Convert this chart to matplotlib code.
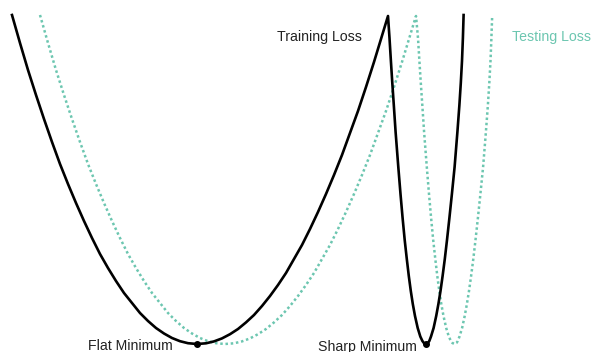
import matplotlib.pyplot as plt

# ---- data (x = parameter, y = loss) ----
train_x = [12, 20, 28, 36, 44, 52, 60, 68, 76, 84, 92, 100, 108, 116, 124, 132,
           140, 148, 156, 164, 172, 180, 188, 197,
           206, 214, 222, 230, 238, 246, 254, 262, 270, 278, 286, 294, 302, 310,
           318, 326, 334, 342, 350, 358, 366, 374, 381, 388,
           389.5, 390.9, 392.3, 393.8, 395.6, 398.3, 400.5, 402.6, 404.7, 406.8,
           408.8, 410.8, 412.8, 415, 417.7, 420.3, 422.4, 423.9, 426,
           427.9, 429.3, 431, 433.6, 436.2, 438.4, 440.5, 442.6, 444.8, 447,
           449.4, 451.9, 454.6, 457.4, 459.4, 460.8, 462, 462.9, 463.6]
train_y = [337, 309, 282, 257, 233, 210, 188, 168, 149, 131, 114, 98, 84, 71, 59, 49,
           39, 31, 24, 18.5, 14, 10.8, 8.8, 8,
           8.7, 10.6, 13.6, 17.8, 23, 29.6, 37, 46, 56, 67, 79, 93, 107, 123,
           140, 158, 177, 197, 219, 241, 265, 290, 313, 336,
           314, 291, 269, 247, 220, 185, 158, 134, 112, 93,
           76, 61, 48, 36, 24, 15.5, 11, 9, 8,
           9, 11, 15.5, 24, 36, 48, 61, 76, 93, 112,
           134, 158, 185, 220, 247, 269, 291, 314, 337]

test_x = [40, 48, 56, 64, 72, 80, 88, 96, 104, 112, 120, 128, 136, 144, 152, 160,
          168, 176, 184, 192, 200, 208, 216, 225,
          234, 242, 250, 258, 266, 274, 282, 290, 298, 306, 314, 322, 330, 338,
          346, 354, 362, 370, 378, 386, 394, 402, 409, 416,
          418, 419.4, 420.8, 422.3, 424.1, 426.8, 429, 431.1, 433.2, 435.3,
          437.3, 439.3, 441.3, 443.5, 446.2, 448.8, 450.9, 452.4, 454.5,
          456.4, 457.8, 459.5, 462.1, 464.7, 466.9, 469, 471.1, 473.3, 475.5,
          477.9, 480.4, 483.1, 485.9, 487.9, 489.3, 490.5, 491.4, 492.1]
test_y = [337, 309, 282, 257, 233, 210, 188, 168, 149, 131, 114, 98, 84, 71, 59, 49,
          39, 31, 24, 18.5, 14, 10.8, 8.8, 8,
          8.7, 10.6, 13.6, 17.8, 23, 29.6, 37, 46, 56, 67, 79, 93, 107, 123,
          140, 158, 177, 197, 219, 241, 265, 290, 313, 336,
          314, 291, 269, 247, 220, 185, 158, 134, 112, 93,
          76, 61, 48, 36, 24, 15.5, 11, 9, 8,
          9, 11, 15.5, 24, 36, 48, 61, 76, 93, 112,
          134, 158, 185, 220, 247, 269, 291, 314, 334]

minima_x = [197, 426]
minima_y = [8, 8]
minima_labels = ["Flat Minimum", "Sharp Minimum"]

TEAL = "#6cc6b0"
FONT = "Liberation Sans"

fig = plt.figure(figsize=(5.93, 3.52), dpi=100)
ax = fig.add_axes([0, 0, 1, 1])
ax.set_xlim(0, 593)
ax.set_ylim(0, 352)
ax.axis("off")

ax.plot(test_x, test_y, color=TEAL, lw=1.8, linestyle=(0, (1, 1.1)),
        dash_capstyle="butt", zorder=2)
ax.plot(train_x, train_y, color="black", lw=1.9, solid_joinstyle="round", zorder=3)
ax.scatter(minima_x, minima_y, s=16, color="black", zorder=4)

# labels
ax.text(362, 315, "Training Loss", ha="right", va="center",
        fontsize=10.2, color="#222222", family=FONT)
ax.text(512, 315, "Testing Loss", ha="left", va="center",
        fontsize=10.2, color=TEAL, family=FONT)
label_right = [173, 417]
for lx, lab in zip(label_right, minima_labels):
    ax.text(lx, 1.5, lab, ha="right", va="baseline",
            fontsize=10.2, color="#222222", family=FONT)

fig.savefig("out.png", dpi=100)
